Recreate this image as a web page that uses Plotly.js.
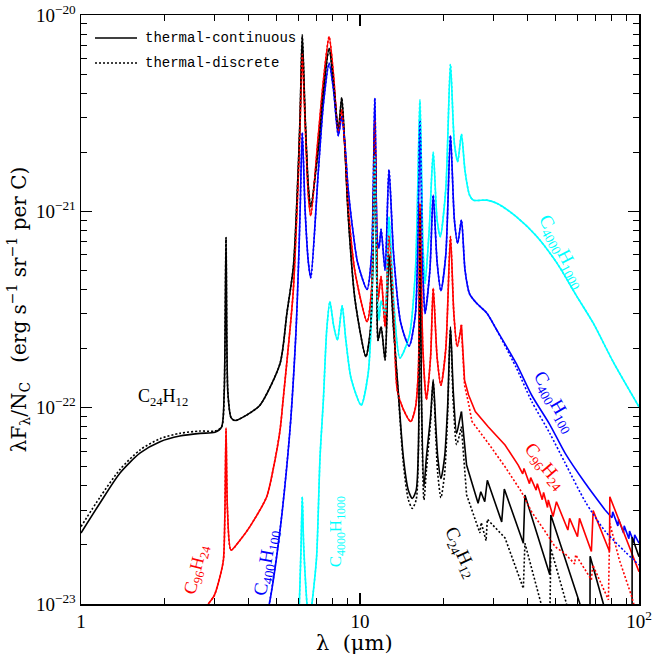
<!DOCTYPE html>
<html><head><meta charset="utf-8">
<script src="https://cdn.plot.ly/plotly-3.0.1.min.js"></script>
<style>html,body{margin:0;padding:0;background:#fff}</style>
</head><body>
<div id="chart" style="width:654px;height:654px"></div>
<script>
// ---- C24H12 (black) ----
const c24_head_lam = [1.0,1.17,1.38,1.63,1.92,2.26,2.67,3.02];
const c24_cont_head = [2.30e-23,3.27e-23,4.65e-23,5.88e-23,6.71e-23,7.17e-23,7.40e-23,7.50e-23];
const c24_disc_head = [2.48e-23,3.50e-23,4.85e-23,6.10e-23,6.95e-23,7.40e-23,7.60e-23,7.60e-23];
const c24_mid_lam = [3.19,3.26,3.31,3.36,3.45,3.56,3.92,4.38,5.17,5.47,5.77,6.01,6.10,6.21,6.36,6.53,6.66,7.09,7.39,7.75,8.03,8.36,8.60,8.83,9.07,9.60,10.5,10.9,11.1,11.3,11.5,11.6,11.9,12.3,12.7,13.2];
const c24_mid = [7.97e-23,1.2e-22,7.35e-22,1.2e-22,8.9e-23,8.6e-23,9.16e-23,1.03e-22,1.68e-22,3.03e-22,5.22e-22,1.69e-21,3.1e-21,7.91e-21,3.03e-21,1.33e-21,1.057e-21,2.1e-21,4.07e-21,6.76e-21,4.57e-21,2.6e-21,3.79e-21,2.1e-21,9.58e-22,3.53e-22,1.82e-22,2.5e-22,5e-22,2.8e-21,4e-22,2.2e-22,2.58e-22,1.75e-22,6e-22,2.5e-22];
const c24_ir_lam = [13.7,14.3,14.9,15.4,15.9,16.2,16.4,16.6,16.95,17.3,17.9,18.3,18.7,19.0,19.5,20.1,20.6,21.1,21.6,22.2,22.7,23.1];
const c24_cont_ir = [1.23e-22,5.6e-23,3.8e-23,3.45e-23,3.8e-23,6.5e-23,1.0e-21,1.2e-22,3.95e-23,5.6e-23,9e-23,1.39e-22,8e-23,5.6e-23,4.36e-23,5.6e-23,1e-22,2.58e-22,1.2e-22,7.4e-23,8.5e-23,9.55e-23];
const c24_disc_ir = [1.2e-22,5.2e-23,3.4e-23,3.07e-23,3.4e-23,6e-23,1.0e-21,1.1e-22,3.39e-23,4.8e-23,8.5e-23,1.35e-22,7e-23,4.6e-23,3.48e-23,4.6e-23,9e-23,2.5e-22,1.05e-22,6.5e-23,7.2e-23,8.0e-23];
const c24_cont_tail_lam = [23.1,24.1,26.5,27.1,28.0,28.6,32.2,32.9,38.5,39.0,47.9,48.3,62.0,66.7,66.8,75.0,94.4,94.5,100];
const c24_cont_tail = [9.55e-23,5.1e-23,3.26e-23,3.73e-23,3.32e-23,4.27e-23,2.62e-23,3.85e-23,2.04e-23,3.59e-23,1.41e-23,2.84e-23,9.6e-24,7e-24,1.75e-23,9.5e-24,3e-24,2.19e-23,1.74e-23];
const c24_disc_tail_lam = [23.1,24.1,26.9,27.2,28.3,28.6,33.1,38.5,39.0,44.6,47.9,48.3,55.0,60.0];
const c24_disc_tail = [8.0e-23,3.6e-23,2.3e-23,2.6e-23,2.1e-23,2.7e-23,2.17e-23,1.2e-23,2.04e-23,1.0e-23,8e-24,1.92e-23,1.0e-23,7e-24];

// ---- C96H24 (red) ----
const c96_main_lam = [2.75,2.86,3.0,3.15,3.24,3.28,3.31,3.35,3.45,3.72,4.03,4.63,4.89,5.17,5.3,5.61,5.77,6.01,6.10,6.21,6.36,6.53,6.66,7.09,7.39,7.75,8.03,8.36,8.60,8.83,9.07,9.60,10.6,11.0,11.3,11.5,11.6,11.9,12.3,12.7,13.2,13.6,14.3,15.2,15.8,16.2,16.4,16.8,17.3,17.9,18.3,18.9,19.5,20.3,21.1,21.7,22.3,23.1];
const c96_main = [8.5e-24,1.0e-23,1.1e-23,1.38e-23,1.68e-23,3.0e-23,7.85e-23,3.0e-23,1.88e-23,2.12e-23,2.48e-23,3.52e-23,4.9e-23,7.69e-23,1.09e-22,2.49e-22,4.0e-22,1.5e-21,2.8e-21,6.3e-21,2.8e-21,1.2e-21,9.5e-22,2.45e-21,4.6e-21,7.75e-21,5.0e-21,2.54e-21,3.28e-21,2.1e-21,1.05e-21,4.9e-22,2.74e-22,4.0e-22,2.9e-21,6.0e-22,3.5e-22,4.65e-22,2.58e-22,7.5e-22,3.2e-22,1.23e-22,9.8e-23,8.5e-23,1.0e-22,1.6e-22,1.1e-21,2.0e-22,1.1e-22,1.8e-22,4.06e-22,1.8e-22,1.3e-22,2.0e-22,7.43e-22,3.0e-22,2.05e-22,2.64e-22];
const c96_cont_tail_lam = [23.1,23.7,24.5,25.9,28.8,33.1,36.9,38.3,38.7,40.5,40.9,42.8,43.2,45.0,45.5,47.0,47.3,49.2,50.6,55.6,56.4,60.2,61.2,67.5,68.5,78.4,78.6,100];
const c96_cont_tail = [2.64e-22,1.38e-22,1.16e-22,9.55e-23,8.0e-23,6.45e-23,5.1e-23,4.6e-23,4.9e-23,4.1e-23,4.4e-23,3.8e-23,4.1e-23,3.4e-23,3.7e-23,3.1e-23,3.39e-23,2.79e-23,3.32e-23,2.38e-23,2.73e-23,2.2e-23,2.73e-23,1.85e-23,2.99e-23,1.85e-23,3.52e-23,1.46e-23];
const c96_disc_tail_lam = [23.1,23.7,24.5,25.2,28.8,33.1,37.9,41.2,46.0,50.0,54.4,58.8,59.3,67.5,68.3,77.7,78.6,85.0,94.0,100];
const c96_disc_tail = [2.5e-22,1.3e-22,1.05e-22,8.5e-23,6.6e-23,5.0e-23,3.73e-23,2.95e-23,2.35e-23,1.96e-23,1.8e-23,1.6e-23,1.78e-23,1.33e-23,1.58e-23,1.05e-23,2.57e-23,1.68e-23,1.1e-23,8e-24];

// ---- C400H100 (blue) ----
const c400_main_lam = [4.6,4.73,5.17,5.61,5.9,6.01,6.10,6.21,6.36,6.53,6.66,7.09,7.39,7.75,8.03,8.36,8.60,8.83,9.07,9.46,9.8,10.6,11.0,11.3,11.55,11.7,11.9,12.3,12.7,13.2,14.0,15.0,15.8,16.4,16.8,17.1,17.8,18.3,18.9,19.5,20.3,21.1,21.8,22.4,23.1,23.8,24.7,26.2,28.5,30.9,36.3,41.2,47.9,54.4,64.2,75.6];
const c400_main = [8.5e-24,1.0e-23,2.38e-23,7.69e-23,2.49e-22,5e-22,1.0e-21,2.52e-21,1.0e-21,5.5e-22,4.59e-22,1.6e-21,3.5e-21,5.68e-21,4.2e-21,2.43e-21,3.03e-21,2.2e-21,1.3e-21,7.7e-22,5.5e-22,4.0e-22,6e-22,3.77e-21,7e-22,6.5e-22,8.1e-22,5.02e-22,1.63e-21,6e-22,2.7e-22,2.06e-22,3e-22,2.9e-21,5e-22,3.02e-22,5e-22,1.21e-21,5.5e-22,3.94e-22,6e-22,2.43e-21,9e-22,6.88e-22,9.03e-22,5e-22,3.8e-22,3.4e-22,3.03e-22,2.49e-22,1.68e-22,1.16e-22,8.2e-23,5.85e-23,4.12e-23,3.01e-23];
const c400_cont_tail_lam = [75.6,80.0,80.5,84.0,84.5,88.0,88.5,92.0,92.5,96.0,96.5,100];
const c400_cont_tail = [3.01e-23,2.75e-23,2.95e-23,2.5e-23,2.7e-23,2.3e-23,2.5e-23,2.15e-23,2.35e-23,2.05e-23,2.25e-23,2.04e-23];
const c400_disc_tail_lam = [30.9,36.3,41.2,47.9,54.4,64.2,75.6,89.0,100];
const c400_disc_tail = [2.49e-22,1.6e-22,1.08e-22,7.4e-23,5.21e-23,3.32e-23,2.35e-23,1.85e-23,1.58e-23];

// ---- C4000H1000 (cyan) ----
const c4000_lam = [5.95,6.06,6.15,6.21,6.28,6.4,6.55,6.62,6.8,6.99,7.19,7.39,7.6,7.8,8.05,8.3,8.63,8.9,9.3,10.1,10.7,11.0,11.3,11.5,11.7,11.9,12.3,12.7,13.2,13.9,15.0,15.8,16.4,16.8,17.1,17.7,18.3,18.9,19.4,20.3,21.1,21.8,22.4,23.1,23.8,24.7,25.5,28.5,30.9,36.3,43.1,50.9,59.8,68.5,81,100];
const c4000_flux = [5e-24,1.0e-23,2e-23,3.52e-23,2e-23,1.2e-23,8e-24,8.5e-24,1.15e-23,1.74e-23,5.6e-23,1.09e-22,2.5e-22,3.47e-22,2.6e-22,2.21e-22,3.3e-22,2.2e-22,1.4e-22,1.03e-22,1.5e-22,3e-22,1.9e-21,4e-22,2.8e-22,3.5e-22,3e-22,9.4e-22,3.5e-22,1.79e-22,2.3e-22,5e-22,3.69e-21,7e-22,4.3e-22,8e-22,2.0e-21,9e-22,7.43e-22,1.3e-21,5.61e-21,2.2e-21,1.79e-21,2.47e-21,1.6e-21,1.21e-21,1.14e-21,1.14e-21,1.1e-21,9.4e-22,7.43e-22,5.43e-22,3.7e-22,2.7e-22,1.7e-22,1.01e-22];

// ---- ticks / labels ----
const xTickVals = [1,10,100];
const xTickText = ['1','10','10<sup>2</sup>'];
const xMinor = [2,3,4,5,6,7,8,9,20,30,40,50,60,70,80,90];
const yTickVals = [1e-23,1e-22,1e-21,1e-20];
const yTickText = ['10<sup>−23</sup>','10<sup>−22</sup>','10<sup>−21</sup>','10<sup>−20</sup>'];
const yMinor = [2e-23,3e-23,4e-23,5e-23,6e-23,7e-23,8e-23,9e-23,2e-22,3e-22,4e-22,5e-22,6e-22,7e-22,8e-22,9e-22,2e-21,3e-21,4e-21,5e-21,6e-21,7e-21,8e-21,9e-21];
const legendNames = ['thermal-continuous','thermal-discrete'];
const xTitle = 'λ  (μm)';

const BLACK='#000000', RED='#ff0000', BLUE='#0000ff', CYAN='#00ffff';
const DOT='2px,2px';
function tr(x,y,color,dash,shape){return {x:x,y:y,type:'scatter',mode:'lines',line:{color:color,width:1.6,dash:dash,shape:shape||'linear',smoothing:0.7},hoverinfo:'skip',showlegend:false};}
const cat=(...a)=>[].concat(...a);
const S='spline';

const data = [
  tr(c4000_lam,c4000_flux,CYAN,'solid',S),
  tr(c400_main_lam,c400_main,BLUE,'solid',S),
  tr(c400_cont_tail_lam,c400_cont_tail,BLUE,'solid'),
  tr(c96_main_lam,c96_main,RED,'solid',S),
  tr(c96_cont_tail_lam,c96_cont_tail,RED,'solid'),
  tr(cat(c24_head_lam,c24_mid_lam,c24_ir_lam),cat(c24_cont_head,c24_mid,c24_cont_ir),BLACK,'solid',S),
  tr(c24_cont_tail_lam,c24_cont_tail,BLACK,'solid'),
  tr(cat(c24_head_lam,c24_mid_lam,c24_ir_lam),cat(c24_disc_head,c24_mid,c24_disc_ir),BLACK,DOT,S),
  tr(c24_disc_tail_lam,c24_disc_tail,BLACK,DOT),
  tr(c96_main_lam,c96_main,RED,DOT,S),
  tr(c96_disc_tail_lam,c96_disc_tail,RED,DOT),
  tr(c400_main_lam.slice(0,50),c400_main.slice(0,50),BLUE,DOT,S),
  tr(c400_disc_tail_lam,c400_disc_tail,BLUE,DOT,S),
  tr(c4000_lam,c4000_flux,CYAN,DOT,S)
];

const serif='Liberation Serif, Times New Roman, serif';
const tfont={family:serif,size:19,color:'#000'};
const lblFont=(c,s)=>({family:serif,size:s||18,color:c});
function ann(text,x,y,color,angle,size){return {text:text,x:x,y:y,xref:'paper',yref:'paper',showarrow:false,textangle:angle,font:lblFont(color,size),xanchor:'center',yanchor:'middle'};}

const layout = {
  width:654,height:654,
  margin:{l:81,r:15,t:15,b:50},
  paper_bgcolor:'#fff',plot_bgcolor:'#fff',
  showlegend:false,
  xaxis:{type:'log',range:[0,2],tickmode:'array',tickvals:xTickVals,ticktext:xTickText,
    ticks:'inside',ticklen:11,tickwidth:1.2,tickcolor:'#000',
    showline:true,linecolor:'#000',linewidth:1.5,mirror:'allticks',showgrid:false,zeroline:false,
    minor:{tickmode:'array',tickvals:xMinor,ticks:'inside',ticklen:6,tickwidth:1,tickcolor:'#000',showgrid:false},
    tickfont:tfont},
  yaxis:{type:'log',range:[-23,-20],tickmode:'array',tickvals:yTickVals,ticktext:yTickText,
    ticks:'inside',ticklen:11,tickwidth:1.2,tickcolor:'#000',
    showline:true,linecolor:'#000',linewidth:1.5,mirror:'allticks',showgrid:false,zeroline:false,
    minor:{tickmode:'array',tickvals:yMinor,ticks:'inside',ticklen:6,tickwidth:1,tickcolor:'#000',showgrid:false},
    tickfont:tfont,
    title:{text:'λF<sub>λ</sub>/N<sub>C</sub>\u00a0\u00a0\u00a0(erg s<sup>−1</sup> sr<sup>−1</sup> per C)',font:{family:'DejaVu Serif',size:20,color:'#000'},standoff:4}},
  shapes:[
    {type:'line',xref:'paper',yref:'paper',x0:0.0251,x1:0.1004,y0:0.961,y1:0.961,line:{color:'#000',width:1.6}},
    {type:'line',xref:'paper',yref:'paper',x0:0.0251,x1:0.1004,y0:0.9185,y1:0.9185,line:{color:'#000',width:1.6,dash:DOT}}
  ],
  annotations:[
    {text:xTitle,x:0.491,y:-0.066,xref:'paper',yref:'paper',showarrow:false,xanchor:'center',yanchor:'middle',font:{family:'DejaVu Serif',size:21,color:'#000'}},
    {text:legendNames[0],x:0.111,y:0.961,xref:'paper',yref:'paper',showarrow:false,xanchor:'left',yanchor:'middle',font:{family:'Liberation Mono',size:14,color:'#000'}},
    {text:legendNames[1],x:0.111,y:0.9185,xref:'paper',yref:'paper',showarrow:false,xanchor:'left',yanchor:'middle',font:{family:'Liberation Mono',size:14,color:'#000'}},
    ann('C<sub>24</sub>H<sub>12</sub>',0.147,0.35,BLACK,0,18),
    ann('C<sub>96</sub>H<sub>24</sub>',0.208,0.058,RED,-76,18),
    ann('C<sub>400</sub>H<sub>100</sub>',0.332,0.07,BLUE,-80,19),
    ann('C<sub>4000</sub>H<sub>1000</sub>',0.459,0.122,CYAN,-90,17),
    ann('C<sub>24</sub>H<sub>12</sub>',0.681,0.087,BLACK,65,19),
    ann('C<sub>96</sub>H<sub>24</sub>',0.830,0.234,RED,50,19),
    ann('C<sub>400</sub>H<sub>100</sub>',0.848,0.343,BLUE,60,19),
    ann('C<sub>4000</sub>H<sub>1000</sub>',0.862,0.598,CYAN,62,19)
  ]
};
Plotly.newPlot('chart',data,layout,{staticPlot:true,displayModeBar:false});
</script>
</body></html>
